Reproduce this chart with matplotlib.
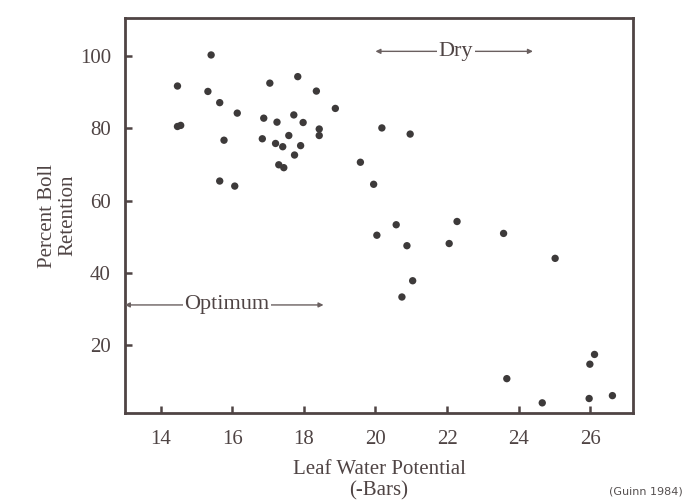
import matplotlib.pyplot as plt

# Leaf water potential (-bars) vs percent boll retention
leaf_wp = [15.41, 14.47, 15.32, 17.05, 17.83, 18.35, 15.65, 16.14, 18.88, 16.88,
           17.25, 17.72, 17.98, 14.47, 14.56, 15.77, 16.84, 17.58, 18.43, 18.43,
           17.21, 17.41, 17.91, 17.74, 17.30, 17.44, 15.65, 16.07, 19.58, 19.95,
           20.18, 20.97, 20.04, 20.58, 22.28, 23.58, 20.88, 22.06, 25.02, 21.04,
           20.74, 26.12, 25.99, 23.67, 24.66, 25.97, 26.62]
retention = [100.3, 91.7, 90.2, 92.5, 94.3, 90.3, 87.1, 84.2, 85.5, 82.8,
             81.7, 83.7, 81.6, 80.5, 80.8, 76.7, 77.1, 78.0, 79.8, 78.0,
             75.8, 74.9, 75.2, 72.6, 69.9, 69.1, 65.4, 64.0, 70.6, 64.5,
             80.1, 78.4, 50.4, 53.3, 54.2, 50.9, 47.5, 48.1, 44.0, 37.8,
             33.3, 17.4, 14.7, 10.7, 4.0, 5.2, 6.0]

x_ticks = [14, 16, 18, 20, 22, 24, 26]
y_ticks = [20, 40, 60, 80, 100]

ink = '#4f4444'
serif = 'Liberation Serif'

fig = plt.figure(figsize=(6.86, 5.03), dpi=100)
ax = fig.add_axes([0.182, 0.179, 0.741, 0.785])

ax.scatter(leaf_wp, retention, s=28, color='#3d3a3a', edgecolors='none', zorder=3)

ax.set_xlim(13.0, 27.2)
ax.set_ylim(1.2, 110.5)
ax.set_xticks(x_ticks)
ax.set_yticks(y_ticks)
ax.tick_params(direction='in', length=5, width=1.8, color=ink, labelcolor=ink,
               labelsize=15)
ax.tick_params(axis='x', pad=12)
ax.tick_params(axis='y', pad=10)
for lab in ax.get_xticklabels() + ax.get_yticklabels():
    lab.set_family(serif)
for sp in ax.spines.values():
    sp.set_linewidth(2.0)
    sp.set_color(ink)

# range arrows
ax.annotate('', xy=(20.0, 101.3), xytext=(24.4, 101.3),
            arrowprops=dict(arrowstyle='<|-|>', color='#6a6060', lw=1.0,
                            mutation_scale=7, shrinkA=0, shrinkB=0))
ax.text(22.25, 101.3, 'Dry', ha='center', va='center', fontsize=16, family=serif,
        color=ink, bbox=dict(facecolor='white', edgecolor='none', pad=1))
ax.annotate('', xy=(13.0, 31.1), xytext=(18.55, 31.1),
            arrowprops=dict(arrowstyle='<|-|>', color='#6a6060', lw=1.0,
                            mutation_scale=7, shrinkA=0, shrinkB=0))
ax.text(15.85, 31.1, 'Optimum', ha='center', va='center', fontsize=16, family=serif,
        color=ink, bbox=dict(facecolor='white', edgecolor='none', pad=1))

ax.set_xlabel('Leaf Water Potential\n(-Bars)', fontsize=15, family=serif, color=ink,
              linespacing=1.2, labelpad=8)
ax.set_ylabel('Percent Boll\nRetention', fontsize=15, family=serif, color=ink,
              linespacing=1.1, labelpad=2)

fig.text(0.995, 0.022, '(Guinn 1984)', ha='right', va='center', fontsize=8,
         color='#555050')

fig.savefig('out.png', dpi=100)
